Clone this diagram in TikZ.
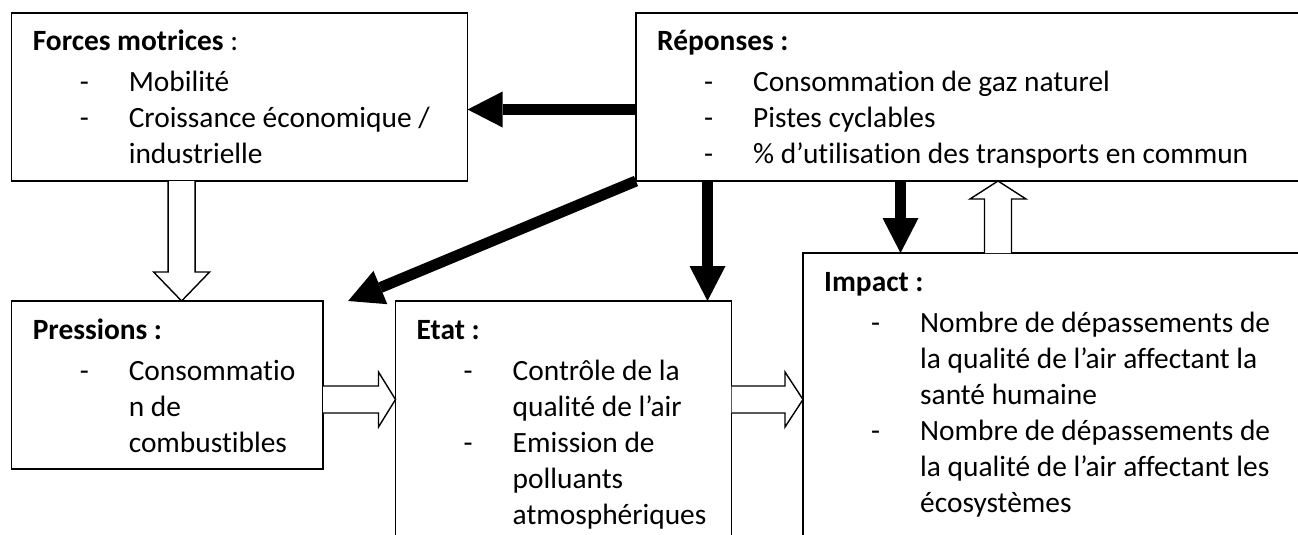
\documentclass[tikz,border=0pt]{standalone}
\usepackage{fontspec}
\setmainfont{Carlito}[Ligatures=NoCommon]
\usetikzlibrary{arrows.meta,calc}
\newcommand{\corps}{\fontsize{29.4}{36}\selectfont}

\begin{document}
\begin{tikzpicture}[x=1pt,y=-1pt,
  boite/.style={draw, line width=1.7pt, fill=white, inner sep=0pt, outer sep=0pt, anchor=north west},
  texte/.style={anchor=base west, inner sep=0pt, font=\corps},
  fleche/.style={line width=11pt, -{Triangle[length=35pt,width=36pt,line width=0pt]}},
  creux/.style={draw, line width=1.4pt, fill=white, line join=miter}]
\useasboundingbox (0,0) rectangle (1298,535);
\clip (0,0) rectangle (1298,535);

% cadres
\node[boite, minimum width=456pt, minimum height=168pt] (forces) at (11.6,13) {};
\node[boite, minimum width=700pt, minimum height=168pt] (reponses) at (636,13) {};
\node[boite, minimum width=311.5pt, minimum height=168pt] (press) at (11.6,301) {};
\node[boite, minimum width=336pt, minimum height=260pt] (etat) at (395.5,301) {};
\node[boite, minimum width=520pt, minimum height=310pt] (impact) at (803,253) {};

% textes
\node[texte] (forcestxt) at ([xshift=21pt,yshift=-38pt]forces.north west) {\begin{tabular}[t]{@{\hspace{47pt}}p{49pt}@{}l@{}}
\multicolumn{2}{@{}l@{}}{\textbf{Forces motrices} :}\\[5pt]
- & Mobilité\\
- & Croissance économique /\\
  & industrielle
\end{tabular}};
\node[texte] (reponsestxt) at ([xshift=21pt,yshift=-38pt]reponses.north west) {\begin{tabular}[t]{@{\hspace{47pt}}p{49pt}@{}l@{}}
\multicolumn{2}{@{}l@{}}{\textbf{Réponses :}}\\[5pt]
- & Consommation de gaz naturel\\
- & Pistes cyclables\\
- & \% d’utilisation des transports en commun
\end{tabular}};
\node[texte] (presstxt) at ([xshift=21pt,yshift=-38pt]press.north west) {\begin{tabular}[t]{@{\hspace{47pt}}p{49pt}@{}l@{}}
\multicolumn{2}{@{}l@{}}{\textbf{Pressions :}}\\[5pt]
- & Consommatio\\
  & n de\\
  & combustibles
\end{tabular}};
\node[texte] (etattxt) at ([xshift=21pt,yshift=-38pt]etat.north west) {\begin{tabular}[t]{@{\hspace{47pt}}p{49pt}@{}l@{}}
\multicolumn{2}{@{}l@{}}{\textbf{Etat :}}\\[5pt]
- & Contrôle de la\\
  & qualité de l’air\\
- & Emission de\\
  & polluants\\
  & atmosphériques
\end{tabular}};
\node[texte] (impacttxt) at ([xshift=21pt,yshift=-38pt]impact.north west) {\begin{tabular}[t]{@{\hspace{47pt}}p{49pt}@{}l@{}}
\multicolumn{2}{@{}l@{}}{\textbf{Impact :}}\\[5pt]
- & Nombre de dépassements de\\
  & la qualité de l’air affectant la\\
  & santé humaine\\
- & Nombre de dépassements de\\
  & la qualité de l’air affectant les\\
  & écosystèmes
\end{tabular}};

% fleches pleines depuis les reponses
\coordinate (rf) at ([yshift=-96.5pt]reponses.north west);
\draw[fleche] (rf) -- (rf -| forces.east);
\coordinate (cible) at ([xshift=25pt]press.north east);
\draw[fleche] (reponses.south west) -- (cible);
\coordinate (re) at ([xshift=71.5pt]reponses.south west);
\draw[fleche] (re) -- (re |- etat.north);
\coordinate (ri) at ([xshift=264.5pt]reponses.south west);
\draw[fleche] (ri) -- (ri |- impact.north);

% fleches creuses
\coordinate (fp1) at ([xshift=170pt]forces.south west);
\coordinate (fp2) at ([xshift=170pt]press.north west);
\draw[creux] ([xshift=-13.5pt]fp1) -- ([xshift=-13.5pt,yshift=29pt]fp2) -- ([xshift=-28pt,yshift=29pt]fp2) -- (fp2)
  -- ([xshift=28pt,yshift=29pt]fp2) -- ([xshift=13.5pt,yshift=29pt]fp2) -- ([xshift=13.5pt]fp1);
\coordinate (pe1) at ([yshift=-98.5pt]press.north east);
\coordinate (pe2) at (pe1 -| etat.west);
\draw[creux] ([yshift=13.5pt]pe1) -- ([xshift=-17pt,yshift=13.5pt]pe2) -- ([xshift=-17pt,yshift=27.5pt]pe2) -- (pe2)
  -- ([xshift=-17pt,yshift=-27.5pt]pe2) -- ([xshift=-17pt,yshift=-13.5pt]pe2) -- ([yshift=-13.5pt]pe1);
\coordinate (ei1) at ([yshift=-98.5pt]etat.north east);
\coordinate (ei2) at (ei1 -| impact.west);
\draw[creux] ([yshift=13.5pt]ei1) -- ([xshift=-18pt,yshift=13.5pt]ei2) -- ([xshift=-18pt,yshift=27.5pt]ei2) -- (ei2)
  -- ([xshift=-18pt,yshift=-27.5pt]ei2) -- ([xshift=-18pt,yshift=-13.5pt]ei2) -- ([yshift=-13.5pt]ei1);
\coordinate (ir1) at ([xshift=195pt]impact.north west);
\coordinate (ir2) at (ir1 |- reponses.south);
\draw[creux] ([xshift=-13.5pt]ir1) -- ([xshift=-13.5pt,yshift=-18pt]ir2) -- ([xshift=-28pt,yshift=-18pt]ir2) -- (ir2)
  -- ([xshift=28pt,yshift=-18pt]ir2) -- ([xshift=13.5pt,yshift=-18pt]ir2) -- ([xshift=13.5pt]ir1);
\end{tikzpicture}
\end{document}
